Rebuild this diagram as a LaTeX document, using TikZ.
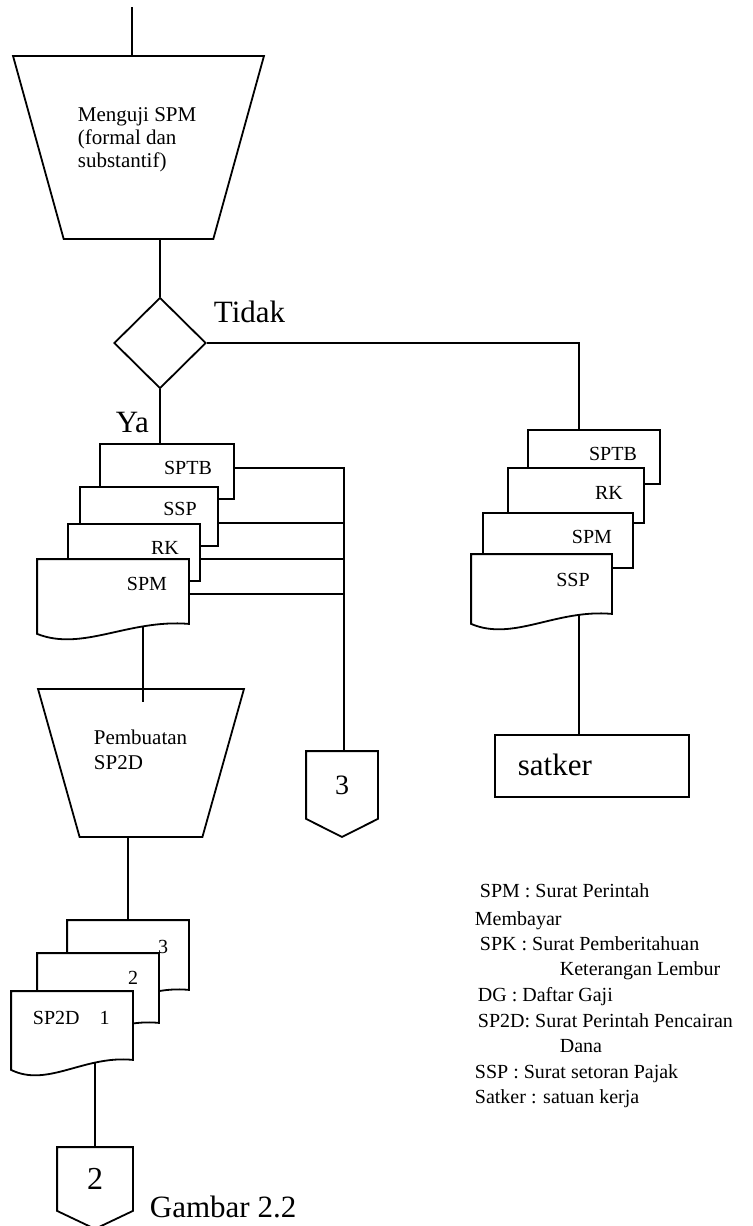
\documentclass[tikz,border=0pt]{standalone}
\usepackage{fontspec}
\setmainfont{Liberation Serif}
\usetikzlibrary{shapes.geometric,calc}
\pgfdeclarelayer{bawah}
\pgfsetlayers{bawah,main}
% dokumen dengan sisi bawah bergelombang
\newcommand{\gelombang}[1]{%
  \draw[fill=white] (#1.south east) -- (#1.north east) -- (#1.north west) -- ($(#1.south west)+(0,10)$)
    .. controls ($(#1.south west)!0.3!(#1.south east)+(0,28)$) and ($(#1.south west)!0.6!(#1.south east)+(0,-5)$) .. (#1.south east) -- cycle;}
% penghubung halaman
\newcommand{\offpage}[1]{%
  \draw (#1.south west) -- (#1.north west) -- (#1.north east) -- (#1.south east) -- ($(#1.south)+(0,18)$) -- cycle;}

\begin{document}
\begin{tikzpicture}[x=0.5pt,y=-0.5pt]
          \tikzstyle{every path}=[line width=0.9pt];
          \tikzstyle{every node}=[inner sep=0pt];
          \tikzstyle{proses}=[draw,shape=trapezium,inner sep=2pt,trapezium stretches=true,trapezium angle=108.7];
          \tikzstyle{dok}=[draw,fill=white,shape=rectangle];
          \tikzstyle{teks}=[font=\fontsize{10}{12}\selectfont];
          \tikzstyle{besar}=[font=\fontsize{15.5}{17}\selectfont];
          \useasboundingbox (0,0) rectangle (753,1226);
          %proses menguji SPM
          \coordinate (awal) at (132,7);
          \node[proses,minimum width=125.5pt,minimum height=91.5pt] (uji) at (138.5,147.5) {};
          \node[anchor=north west,align=left,font=\fontsize{10.5}{11.5}\selectfont] (ujiteks) at (77,107) {Menguji SPM\\(formal dan\\substantif)};
          \node[draw,shape=diamond,minimum width=46pt,minimum height=45.5pt] (cek) at (160,343) {};
          \node[besar,anchor=base west] (tidak) at (213,322) {Tidak};
          \node[besar,anchor=base west] (ya) at (115,432) {Ya};
          %dokumen kiri
          \node[dok,minimum width=67pt,minimum height=27.5pt] (sptbA) at (167,471.5) {};
          \node[dok,minimum width=69pt,minimum height=29.5pt] (sspA) at (149,516.5) {};
          \node[dok,minimum width=66pt,minimum height=28.5pt] (rkA) at (134,552.5) {};
          \node[minimum width=75pt,minimum height=31.5pt] (spmA) at (113,591.5) {};
          \gelombang{spmA}
          \node[teks] (lsptbA) at (188,468) {SPTB};
          \node[teks] (lsspA) at (180,509) {SSP};
          \node[teks] (lrkA) at (165,548) {RK};
          \node[teks] (lspmA) at (147,584) {SPM};
          %penghubung 3
          \node[minimum width=35pt,minimum height=33pt,font=\fontsize{14}{16}\selectfont] (off3) at (342,785) {3};
          \offpage{off3}
          %dokumen kanan
          \node[dok,minimum width=66pt,minimum height=27pt] (sptbB) at (594,457) {};
          \node[dok,minimum width=68pt,minimum height=27.5pt] (rkB) at (576,495.5) {};
          \node[dok,minimum width=75pt,minimum height=27.5pt] (spmB) at (558,540.5) {};
          \node[minimum width=69.5pt,minimum height=29pt] (sspB) at (541.5,584) {};
          \gelombang{sspB}
          \node[teks] (lsptbB) at (613,454) {SPTB};
          \node[teks] (lrkB) at (609,493) {RK};
          \node[teks] (lspmB) at (592,537) {SPM};
          \node[teks] (lsspB) at (573,580) {SSP};
          \node[draw,minimum width=97pt,minimum height=31pt] (satker) at (592,766) {};
          \node[besar,anchor=base west] (satkerteks) at (517,775) {satker};
          \coordinate (kanan) at (579,430);
          %proses pembuatan SP2D
          \node[proses,minimum width=103pt,minimum height=74pt] (buat) at (141,763) {};
          \node[anchor=north west,align=left,font=\fontsize{10.5}{12.5}\selectfont] (buatteks) at (93,729) {Pembuatan\\SP2D};
          \coordinate (kiri) at (143,702);
          %SP2D rangkap 3
          \node[minimum width=60pt,minimum height=34pt] (sp3) at (128,955) {};
          \gelombang{sp3}
          \node[minimum width=60pt,minimum height=34pt] (sp2) at (98,988) {};
          \gelombang{sp2}
          \node[minimum width=60pt,minimum height=33.5pt] (sp1) at (72,1025.5) {};
          \gelombang{sp1}
          \node[teks] (lsp3) at (163,947) {3};
          \node[teks] (lsp2) at (133,978) {2};
          \node[teks,anchor=west] (lsp1) at (32,1017.5) {SP2D\hspace{10pt}1};
          %penghubung 2
          \node[minimum width=37pt,minimum height=31pt,font=\fontsize{16}{18}\selectfont] (off2) at (95,1179) {2};
          \offpage{off2}
          \node[besar,anchor=base west] (judul) at (149,1217) {Gambar 2.2};
          %keterangan
          \node[teks,anchor=base west] (k1) at (479,897) {SPM : Surat Perintah};
          \node[teks,anchor=base west] (k2) at (474,925) {Membayar};
          \node[teks,anchor=base west] (k3) at (479,950) {SPK : Surat Pemberitahuan};
          \node[teks,anchor=base west] (k4) at (559,975) {Keterangan Lembur};
          \node[teks,anchor=base west] (k5) at (477,1001) {DG : Daftar Gaji};
          \node[teks,anchor=base west] (k6) at (477,1027) {SP2D: Surat Perintah Pencairan};
          \node[teks,anchor=base west] (k7) at (559,1052) {Dana};
          \node[teks,anchor=base west] (k8) at (474,1078) {SSP : Surat setoran Pajak};
          \node[teks,anchor=base west] (k9) at (474,1103) {Satker : satuan kerja};
          %garis
          \draw (awal) -- (awal |- uji.north);
          \draw (uji.south -| cek.north) -- (cek.north);
          \draw (cek.east) -| (kanan);
          \draw (cek.south) -- (cek.south |- sptbA.north);
          \coordinate (bus) at (344,468);
          \coordinate (busspm) at (344,594);
          \draw (sptbA.east |- bus) -- (bus) -- (bus |- off3.north);
          \draw (sspA.east |- rkA.north) -- (bus |- rkA.north);
          \draw (rkA.east |- spmA.north) -- (bus |- spmA.north);
          \draw (spmA.east |- busspm) -- (busspm);
          \draw (sp3.north |- buat.south) -- (sp3.north);
          \begin{pgfonlayer}{bawah}
          \draw[line width=0.9pt] (kiri |- spmA.center) -- (kiri);
          \draw[line width=0.9pt] (kanan |- sspB.center) -- (kanan |- satker.north);
          \draw[line width=0.9pt] (sp1.center -| off2.north) -- (off2.north);
          \end{pgfonlayer}
      \end{tikzpicture}
\end{document}
